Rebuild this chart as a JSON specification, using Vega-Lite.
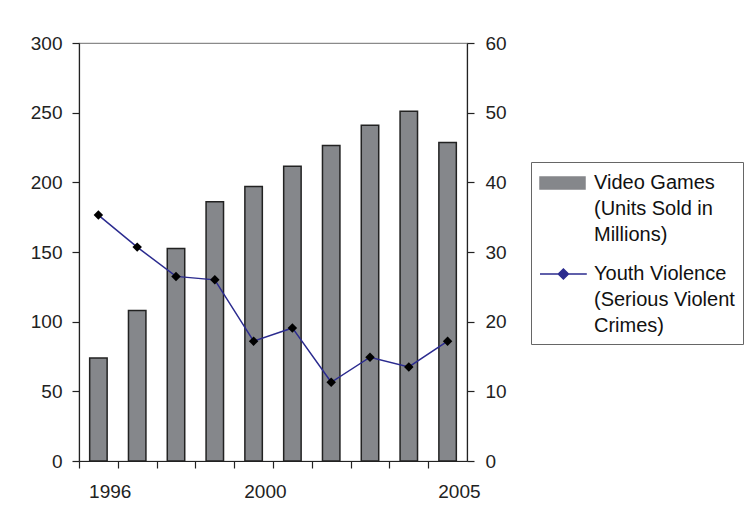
{
  "$schema": "https://vega.github.io/schema/vega-lite/v6.json",
  "width": 388,
  "height": 418,
  "autosize": {"type": "none"},
  "padding": {"left": 79, "top": 43, "right": 283, "bottom": 67},
  "background": "white",
  "config": {
    "font": "Liberation Sans",
    "view": {"stroke": "#8a8a8a", "strokeWidth": 1.2},
    "axis": {
      "labelFont": "Liberation Sans",
      "labelFontSize": 19,
      "labelColor": "#222",
      "domainColor": "#222",
      "tickColor": "#222",
      "domainWidth": 1.2,
      "tickWidth": 1.2,
      "grid": false,
      "title": null
    },
    "legend": {
      "orient": "none",
      "legendX": 452,
      "legendY": 119,
      "title": null,
      "strokeColor": "#666",
      "fillColor": "white",
      "padding": 8,
      "symbolSize": 576,
      "symbolStrokeColor": "#222",
      "symbolStrokeWidth": 1.5,
      "labelFont": "Liberation Sans",
      "labelFontSize": 20,
      "labelColor": "#111",
      "labelOffset": 29,
      "labelLimit": 300,
      "rowPadding": 16
    }
  },
  "data": {
    "values": [
      {"year": 1996, "games": 74, "violence": 35.3},
      {"year": 1997, "games": 108, "violence": 30.7},
      {"year": 1998, "games": 152.5, "violence": 26.5},
      {"year": 1999, "games": 186, "violence": 26.0},
      {"year": 2000, "games": 197, "violence": 17.2},
      {"year": 2001, "games": 211.5, "violence": 19.1},
      {"year": 2002, "games": 226.5, "violence": 11.3},
      {"year": 2003, "games": 241, "violence": 14.9},
      {"year": 2004, "games": 251, "violence": 13.5},
      {"year": 2005, "games": 228.5, "violence": 17.2}
    ]
  },
  "encoding": {
    "x": {
      "field": "year",
      "type": "ordinal",
      "scale": {"paddingInner": 0.55, "paddingOuter": 0.275},
      "axis": {
        "orient": "bottom",
        "bandPosition": 0,
        "tickOffset": -10.67,
        "tickSize": 7,
        "labelAngle": 0,
        "labelOffset": 22,
        "labelPadding": 14,
        "labelExpr": "indexof(['1996','2000','2005'], datum.label) >= 0 ? datum.label : ''"
      }
    }
  },
  "layer": [
    {
      "mark": {"type": "bar", "stroke": "#222", "strokeWidth": 1.5},
      "encoding": {
        "y": {
          "field": "games",
          "type": "quantitative",
          "scale": {"domain": [0, 300], "nice": false},
          "axis": {"orient": "left", "values": [0, 50, 100, 150, 200, 250, 300], "tickSize": 7, "labelPadding": 10}
        },
        "color": {
          "datum": "Video Games (Units Sold in Millions)",
          "type": "nominal",
          "scale": {
            "domain": ["Video Games (Units Sold in Millions)", "Youth Violence (Serious Violent Crimes)"],
            "range": ["#85878b", "#2b2b8f"]
          },
          "legend": {
            "labelExpr": "datum.label == 'Video Games (Units Sold in Millions)' ? ['Video Games', '(Units Sold in', 'Millions)'] : ['Youth Violence', '(Serious Violent', 'Crimes)']",
            "encode": {
              "symbols": {
                "update": {
                  "shape": {"signal": "datum.value == 'Video Games (Units Sold in Millions)' ? 'M-1,-0.5H2.75V0.5H-1Z' : 'M-1,0H2.9M0.95,-0.42L1.37,0L0.95,0.42L0.53,0Z'"},
                  "fill": {"signal": "datum.value == 'Video Games (Units Sold in Millions)' ? '#85878b' : '#2b2b8f'"},
                  "stroke": {"signal": "datum.value == 'Video Games (Units Sold in Millions)' ? '#222' : '#2b2b8f'"},
                  "strokeWidth": {"value": 1.5},
                  "opacity": {"value": 1},
                  "fillOpacity": {"value": 1},
                  "strokeOpacity": {"value": 1}
                }
              },
              "labels": {"update": {"lineHeight": {"value": 26}}}
            }
          }
        }
      }
    },
    {
      "encoding": {
        "y": {
          "field": "violence",
          "type": "quantitative",
          "scale": {"domain": [0, 60], "nice": false},
          "axis": {
            "orient": "right",
            "values": [0, 10, 20, 30, 40, 50, 60],
            "tickSize": 7,
            "labelPadding": 11,
            "encode": {"ticks": {"update": {"x": {"value": -6}}}}
          }
        }
      },
      "layer": [
        {
          "mark": {"type": "line", "strokeWidth": 1.5},
          "encoding": {
            "color": {
              "datum": "Youth Violence (Serious Violent Crimes)",
              "type": "nominal",
              "legend": {
                "labelExpr": "datum.label == 'Video Games (Units Sold in Millions)' ? ['Video Games', '(Units Sold in', 'Millions)'] : ['Youth Violence', '(Serious Violent', 'Crimes)']",
                "encode": {
                  "symbols": {
                    "update": {
                      "shape": {"signal": "datum.value == 'Video Games (Units Sold in Millions)' ? 'M-1,-0.5H2.75V0.5H-1Z' : 'M-1,0H2.9M0.95,-0.42L1.37,0L0.95,0.42L0.53,0Z'"},
                      "fill": {"signal": "datum.value == 'Video Games (Units Sold in Millions)' ? '#85878b' : '#2b2b8f'"},
                      "stroke": {"signal": "datum.value == 'Video Games (Units Sold in Millions)' ? '#222' : '#2b2b8f'"},
                      "strokeWidth": {"value": 1.5},
                      "opacity": {"value": 1},
                      "fillOpacity": {"value": 1},
                      "strokeOpacity": {"value": 1}
                    }
                  },
                  "labels": {"update": {"lineHeight": {"value": 26}}}
                }
              }
            }
          }
        },
        {
          "mark": {"type": "point", "shape": "diamond", "filled": true, "color": "#000", "size": 90, "opacity": 1},
          "encoding": {}
        }
      ]
    }
  ],
  "resolve": {"scale": {"y": "independent"}}
}
